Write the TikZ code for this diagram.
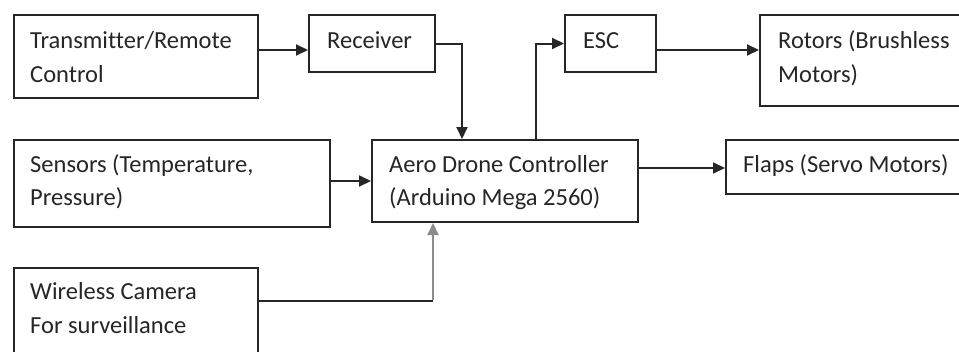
\documentclass[tikz,border=0pt]{standalone}
\usepackage{fontspec}
\setmainfont{Carlito}[Ligatures=CommonOff]
\usetikzlibrary{arrows.meta,calc}
\tikzset{
  blk/.style={draw=black!85, line width=2pt, rectangle, anchor=north west, inner sep=0pt},
  txt/.style={anchor=base west, inner sep=0pt, text=black!85, font=\fontsize{24.5}{34}\selectfont},
  conn/.style={draw=black!85, line width=2pt, -{Triangle[length=12pt,width=11pt]}},
  connplain/.style={draw=black!85, line width=2pt},
  conngray/.style={draw=black!45, line width=2pt, -{Triangle[length=12pt,width=11pt]}}
}
\begin{document}
\begin{tikzpicture}[x=1pt,y=-1pt]
\useasboundingbox (0,0) rectangle (959,351);
\clip (0,0) rectangle (959,351);
\fill[white] (0,0) rectangle (959,351);
% boxes
\node[blk, minimum width=244, minimum height=83] (tx) at (13,14) {};
\node[blk, minimum width=126, minimum height=57] (rx) at (308,14) {};
\node[blk, minimum width=316, minimum height=87] (sen) at (13,139) {};
\node[blk, minimum width=266, minimum height=82] (ctrl) at (371,139) {};
\node[blk, minimum width=91, minimum height=57] (esc) at (564,14) {};
\node[blk, minimum width=230, minimum height=91] (rot) at (759,14) {};
\node[blk, minimum width=260, minimum height=54] (flap) at (725,139) {};
\node[blk, minimum width=244, minimum height=110] (cam) at (13,267) {};
% texts
\node[txt] (tx1) at (30,48) {Transmitter/Remote};
\node[txt] (tx2) at (30,82) {Control};
\node[txt] (rx1) at (327,48) {Receiver};
\node[txt] (sen1) at (30,172) {Sensors (Temperature,};
\node[txt] (sen2) at (30,205) {Pressure)};
\node[txt] (ctrl1) at (389,172) {Aero Drone Controller};
\node[txt] (ctrl2) at (389,205) {(Arduino Mega 2560)};
\node[txt] (esc1) at (583,48) {ESC};
\node[txt] (rot1) at (778,48) {Rotors (Brushless};
\node[txt] (rot2) at (778,82) {Motors)};
\node[txt] (flap1) at (743,172) {Flaps (Servo Motors)};
\node[txt] (cam1) at (30,299) {Wireless Camera};
\node[txt] (cam2) at (30,333) {For surveillance};
% connectors
\draw[conn] (tx.east |- 0,50) -- (rx.west |- 0,50);
\draw[conn] (rx.east) -| ($(ctrl.north west)+(91,0)$);
\draw[conn] (sen.east |- 0,181) -- (ctrl.west |- 0,181);
\draw[conn] ($(ctrl.north west)+(165,0)$) |- (esc.west);
\draw[conn] (esc.east |- 0,50) -- (rot.west |- 0,50);
\draw[conn] (ctrl.east |- 0,168) -- (flap.west |- 0,168);
\coordinate (camc) at (433,301);
\draw[connplain] (cam.east |- camc) -- (camc);
\draw[conngray] ([yshift=1pt]camc) -- (camc |- ctrl.south);
\end{tikzpicture}
\end{document}
